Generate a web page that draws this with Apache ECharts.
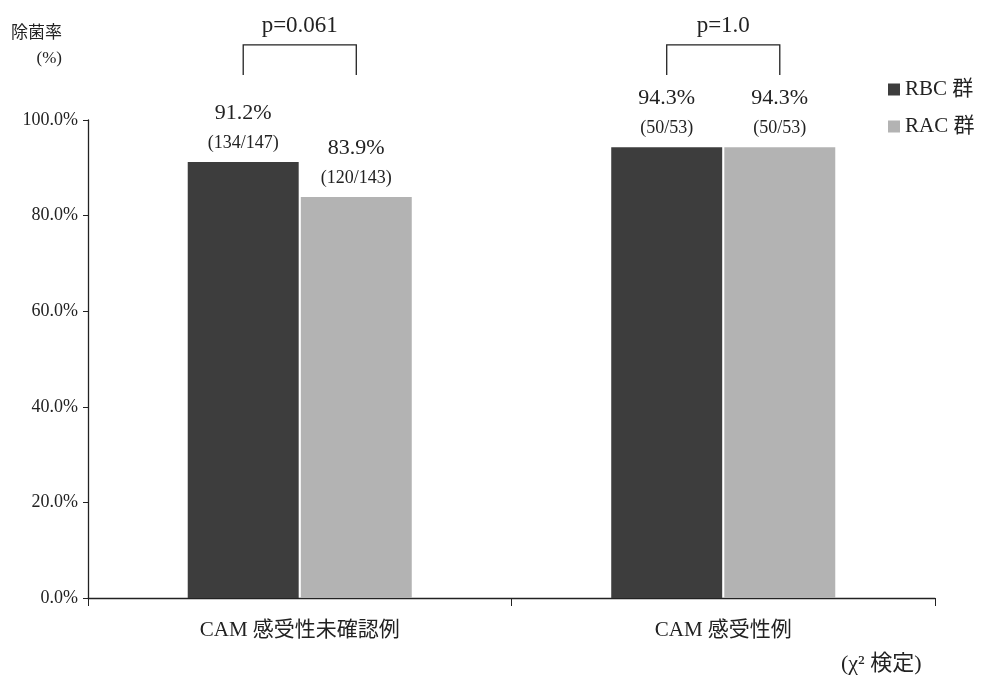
<!DOCTYPE html>
<html><head><meta charset="utf-8">
<script src="https://cdn.jsdelivr.net/npm/echarts@6/dist/echarts.min.js"></script>
<style>html,body{margin:0;padding:0;background:#fff}#c{width:983px;height:681px}</style>
</head><body><div id="c"></div>
<script>
const categories = ['CAM 感受性未確認例', 'CAM 感受性例'];
const seriesNames = ['RBC 群', 'RAC 群'];
const rbcValues = [91.2, 94.3];
const racValues = [83.9, 94.3];
const rbcCounts = ['134/147', '50/53'];
const racCounts = ['120/143', '50/53'];
const pValues = ['p=0.061', 'p=1.0'];
const yTicks = [0, 20, 40, 60, 80, 100];

const SERIF = '"Liberation Serif","DejaVu Serif","Noto Sans CJK JP",serif';
const TXT = '#222';
const BAR_W = 0.262, BAR_GAP = 0.005;

const chart = echarts.init(document.getElementById('c'));

function barLabel(counts) {
  return {
    show: true, position: 'top', distance: 6,
    formatter: p => '{a|' + p.value.toFixed(1) + '%}\n{b|(' + counts[p.dataIndex] + ')}',
    rich: {
      a: {fontFamily: SERIF, fontSize: 22, color: TXT, lineHeight: 34},
      b: {fontFamily: SERIF, fontSize: 18, color: TXT, lineHeight: 26}
    }
  };
}

chart.setOption({
  backgroundColor: '#fff',
  animation: false,
  grid: {left: 88, right: 48, top: 120, bottom: 83},
  legend: {
    orient: 'vertical', left: 883, top: 74, itemWidth: 12, itemHeight: 12, itemGap: 16,
    icon: 'rect',
    textStyle: {fontFamily: SERIF, fontSize: 21, color: TXT},
    data: seriesNames
  },
  xAxis: {
    type: 'category', data: categories,
    axisLine: {lineStyle: {color: '#222', width: 1.3}},
    axisTick: {show: true, length: 8, lineStyle: {color: '#222'}},
    axisLabel: {fontFamily: SERIF, fontSize: 21, color: TXT, margin: 22}
  },
  yAxis: {
    type: 'value', min: yTicks[0], max: yTicks[yTicks.length - 1], interval: 20,
    name: '除菌率\n(%)', nameLocation: 'end', nameGap: 49,
    nameTextStyle: {fontFamily: SERIF, fontSize: 17, color: TXT, align: 'right', lineHeight: 25, padding: [0, 26, 0, 0],
      rich: {}},
    axisLine: {show: true, lineStyle: {color: '#222', width: 1.3}},
    axisTick: {show: true, length: 5, lineStyle: {color: '#222'}},
    splitLine: {show: false},
    axisLabel: {fontFamily: SERIF, fontSize: 18, color: TXT, margin: 10, formatter: v => v.toFixed(1) + '%'}
  },
  series: [
    {name: seriesNames[0], type: 'bar', data: rbcValues, barWidth: (BAR_W * 100) + '%', barGap: (BAR_GAP / BAR_W * 100) + '%',
     itemStyle: {color: '#3d3d3d'}, label: barLabel(rbcCounts)},
    {name: seriesNames[1], type: 'bar', data: racValues, barWidth: (BAR_W * 100) + '%',
     itemStyle: {color: '#b3b3b3'}, label: barLabel(racCounts)},
    {
      type: 'custom', clip: false, silent: true, z: 10,
      data: pValues.map((p, i) => [i, p]),
      renderItem: function (params, api) {
        const i = api.value(0);
        const band = api.size([1, 0])[0];
        const c = api.coord([i, 0]);
        const off = band * (BAR_W + BAR_GAP) / 2;
        const xl = c[0] - off, xr = c[0] + off;
        const yTop = api.coord([i, 115.7])[1];
        const yBot = api.coord([i, 109.4])[1];
        return {
          type: 'group',
          children: [
            {type: 'polyline', shape: {points: [[xl, yBot], [xl, yTop], [xr, yTop], [xr, yBot]]},
             style: {stroke: '#222', lineWidth: 1.3, fill: null}},
            {type: 'text', style: {text: pValues[params.dataIndex], x: c[0], y: yTop - 8,
             textAlign: 'center', textVerticalAlign: 'bottom', font: '23px ' + SERIF, fill: TXT}}
          ]
        };
      }
    }
  ],
  graphic: [
    {type: 'text', left: 841, top: 653, style: {text: '(χ² 検定)', font: '22px ' + SERIF, fill: TXT}}
  ]
});
</script></body></html>
